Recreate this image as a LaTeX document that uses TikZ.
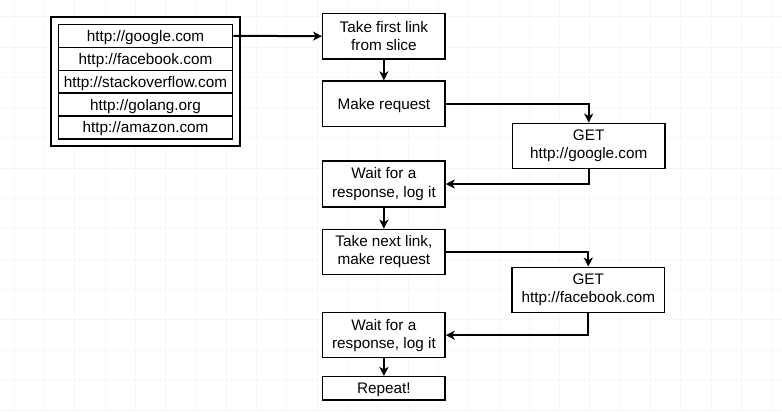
\documentclass[tikz,border=0pt]{standalone}
\usepackage{fontspec}
\setmainfont{Liberation Sans}
\usetikzlibrary{arrows.meta}
\begin{document}
\begin{tikzpicture}[x=1pt,y=-1pt,
  box/.style={draw=black,line width=1.4pt,fill=white,inner sep=0pt,align=center,
    font=\fontsize{15.3}{18.3}\selectfont},
  oneline/.style={text depth=0pt},
  rowbox/.style={box,oneline,minimum width=174.4pt,minimum height=23pt},
  flowbox/.style={box,minimum width=122.3pt,minimum height=45.7pt},
  getbox/.style={box,minimum width=152.5pt,minimum height=45.4pt},
  conn/.style={draw=black,line width=2pt,-{Stealth[length=9pt,width=9pt,inset=2.5pt]}},
  gridline/.style={draw=black!3.5,line width=0.6pt}]
\fill[white] (0,0) rectangle (782,413);
\useasboundingbox (0,0) rectangle (782,413);
\foreach \i in {0,...,25} {\draw[gridline] (14+30.3*\i,0) -- (14+30.3*\i,413);}
\foreach \j in {0,...,13} {\draw[gridline] (0,16.5+30.3*\j) -- (782,16.5+30.3*\j);}
% list
\node[draw=black,line width=1.6pt,fill=white,minimum width=189.3pt,minimum height=129pt,inner sep=0pt] (list) at (145.4,81.2) {};
\node[rowbox] (r1) at (145.5,35.8) {http://google.com};
\node[rowbox] (r2) at (145.5,58.8) {http://facebook.com};
\node[rowbox] (r3) at (145.5,81.7) {http://stackoverflow.com};
\node[rowbox] (r4) at (145.5,104.6) {http://golang.org};
\node[rowbox] (r5) at (145.5,127.3) {http://amazon.com};
% flow
\node[flowbox] (take) at (383.9,36.2) {Take first link\\from slice};
\node[flowbox,oneline] (make) at (383.9,103.9) {Make request};
\node[getbox] (get1) at (588.7,146) {GET\\http://google.com};
\node[flowbox] (wait1) at (383.9,184) {Wait for a\\response, log it};
\node[flowbox,minimum height=45pt] (next) at (383.9,251.8) {Take next link,\\make request};
\node[getbox,minimum height=45pt] (get2) at (588.3,289.8) {GET\\http://facebook.com};
\node[flowbox,minimum height=45pt] (wait2) at (383.9,335.2) {Wait for a\\response, log it};
\node[flowbox,oneline,minimum height=23.3pt] (rep) at (383.9,388.3) {Repeat!};
% connectors
\draw[conn] (r1.east) -- (take.west);
\draw[conn] (take.south) -- (make.north);
\draw[conn] (make.east) -| (get1.north);
\draw[conn] (get1.south) |- (wait1.east);
\draw[conn] (wait1.south) -- (next.north);
\draw[conn] (next.east) -| (get2.north);
\draw[conn] (get2.south) |- (wait2.east);
\draw[conn] (wait2.south) -- (rep.north);
\end{tikzpicture}
\end{document}
